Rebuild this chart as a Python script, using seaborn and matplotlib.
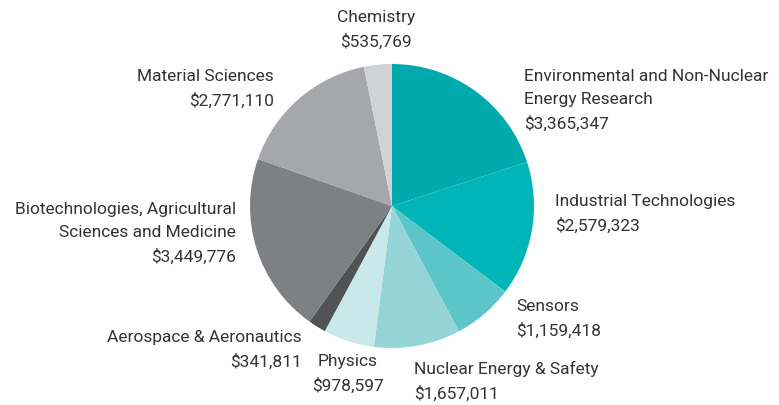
import matplotlib.pyplot as plt
import seaborn as sns

# funding by research area, clockwise from 12 o'clock
areas = ["Environmental and Non-Nuclear\nEnergy Research", "Industrial Technologies", "Sensors",
         "Nuclear Energy & Safety", "Physics", "Aerospace & Aeronautics",
         "Biotechnologies, Agricultural\nSciences and Medicine", "Material Sciences", "Chemistry"]
amounts = [3365347, 2579323, 1159418, 1657011, 978597, 341811, 3449776, 2771110, 535769]
colors = ["#00A9AC", "#00B5B8", "#5BC5C7", "#96D5D7", "#C8E8EA",
          "#505254", "#7F8084", "#A6A7AB", "#D1D2D4"]

# label anchors in pixel space (x, y from top, horizontal alignment)
label_pos = [(524, 77, "left"), (555, 202, "left"), (516, 307, "left"),
             (414, 369, "left"), (348, 362, "center"), (302, 338, "right"),
             (236, 210, "right"), (274, 77, "right"), (376, 18, "center")]

W, H = 779, 406

sns.set_theme(style="white")
plt.rcParams['font.family'] = ['Roboto', 'DejaVu Sans']

fig = plt.figure(figsize=(W / 100, H / 100), dpi=100)
ax = fig.add_axes([0, 0, 1, 1])

ax.pie(amounts, colors=sns.color_palette(colors), startangle=90, counterclock=False,
       center=(392, H - 207), radius=142, frame=True,
       wedgeprops={'linewidth': 0})
ax.set_xlim(0, W)
ax.set_ylim(0, H)
ax.set_aspect('equal')
ax.axis('off')

for name, amt, (x, y, ha) in zip(areas, amounts, label_pos):
    txt = f"{name}\n${amt:,}"
    ax.text(x, H - y + 8, txt, ha=ha, va='top', fontsize=12.5, color='#333333',
            linespacing=1.68, multialignment=ha)

fig.savefig("out.png", dpi=100)
